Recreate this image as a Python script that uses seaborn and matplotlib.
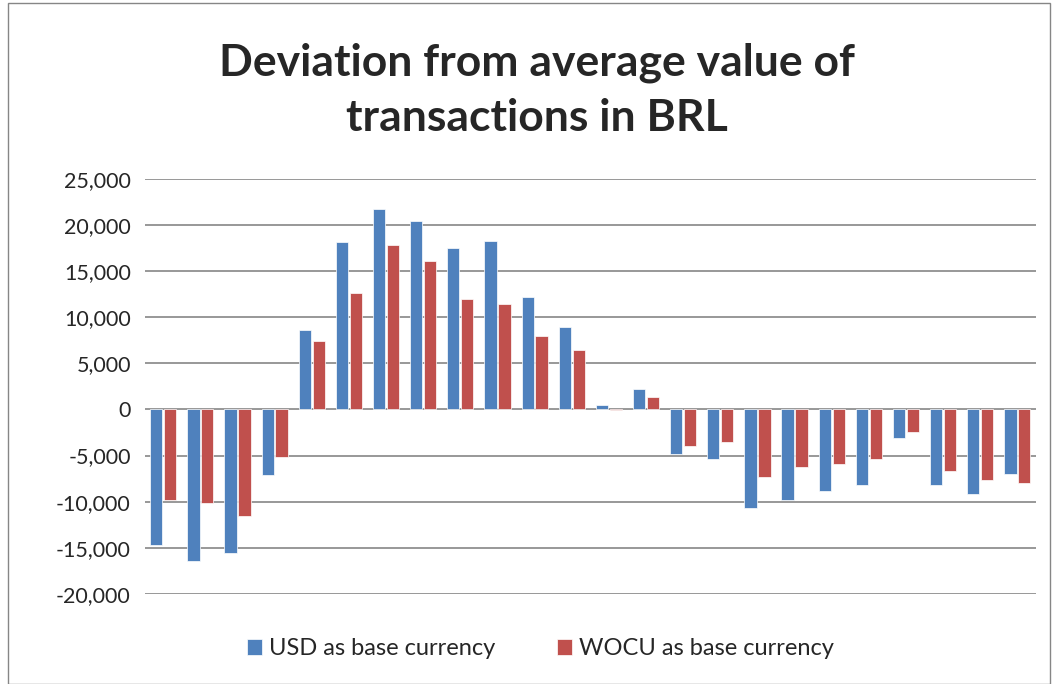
import pandas as pd
import matplotlib.pyplot as plt
import matplotlib.ticker as mticker
import seaborn as sns

periods = [str(i) for i in range(1, 25)]
usd = [-14750, -16500, -15550, -7100, 8600, 18200, 21800, 20450, 17500, 18250, 12250, 9000,
       470, 2240, -4880, -5350, -10700, -9830, -8850, -8170, -3140, -8240, -9180, -6980]
wocu = [-9800, -10200, -11550, -5200, 7450, 12700, 17900, 16100, 11960, 11400, 8000, 6500,
        -100, 1400, -4000, -3500, -7300, -6200, -5930, -5380, -2460, -6690, -7630, -8020]
series = ['USD as base currency', 'WOCU as base currency']
colors = ['#4F81BD', '#C0504D']

df = pd.DataFrame({
    'period': periods * 2,
    'value': usd + wocu,
    'series': [series[0]] * len(periods) + [series[1]] * len(periods),
})

sns.set_style('white')
plt.rcParams['font.family'] = ['Lato', 'DejaVu Sans']

fig = plt.figure(figsize=(10.56, 6.84), dpi=100)
ax = fig.add_axes([0.137, 0.132, 0.844, 0.606])

sns.barplot(data=df, x='period', y='value', hue='series', palette=colors, saturation=1,
            width=0.75, gap=0.12, ax=ax, edgecolor='white', linewidth=0.5, legend=True)

ax.set_ylim(-20000, 25000)
ax.set_yticks(range(-20000, 25001, 5000))
ax.yaxis.set_major_formatter(mticker.FuncFormatter(lambda v, p: f'{int(v):,}'))
ax.tick_params(axis='y', labelsize=15.5, length=0, pad=10)
ax.set_xticks([])
ax.set_xlim(-0.5, len(periods) - 0.5)
ax.set_xlabel('')
ax.set_ylabel('')
ax.grid(axis='y', color='#868686', linewidth=1.2)
ax.set_axisbelow(True)
for s in ax.spines.values():
    s.set_visible(False)

fig.text(0.508, 0.868, 'Deviation from average value of\ntransactions in BRL',
         ha='center', va='center', fontsize=32, fontweight='bold', linespacing=1.45)

handles, labels = ax.get_legend_handles_labels()
ax.legend(handles, labels, loc='center', bbox_to_anchor=(0.512, 0.052),
          bbox_transform=fig.transFigure, ncol=2, frameon=False, fontsize=17,
          handlelength=0.65, handleheight=0.65, handletextpad=0.3, columnspacing=2.6)

fig.add_artist(plt.Rectangle((0.008, 0.0), 0.986, 0.995, transform=fig.transFigure,
                             fill=False, edgecolor='#868686', linewidth=1))

fig.savefig('out.png', dpi=100)
